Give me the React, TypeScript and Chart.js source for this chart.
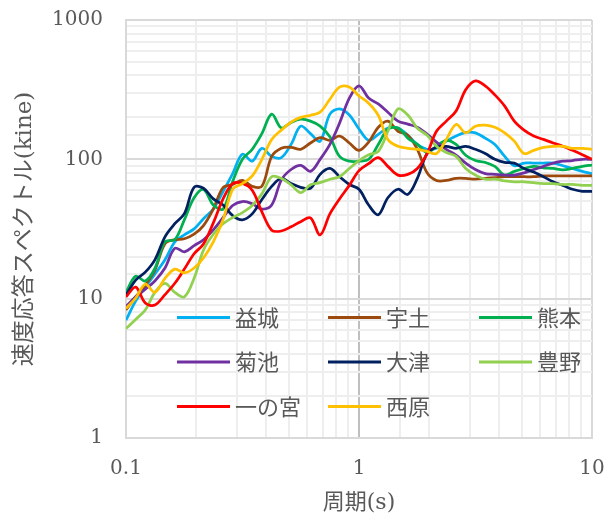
import React, { useEffect, useRef } from "react";
import { Chart, registerables } from "chart.js";

Chart.register(...registerables);

// Period (s)
const periods = [
  0.1, 0.110, 0.121, 0.133, 0.147, 0.162, 0.178, 0.196, 0.215, 0.237,
  0.261, 0.287, 0.316, 0.348, 0.383, 0.422, 0.464, 0.511, 0.562, 0.619,
  0.681, 0.750, 0.825, 0.909, 1.0, 1.10, 1.21, 1.33, 1.47, 1.62,
  1.78, 1.96, 2.15, 2.37, 2.61, 2.87, 3.16, 3.48, 3.83, 4.22,
  4.64, 5.11, 5.62, 6.19, 6.81, 7.50, 8.25, 9.09, 10,
];

// Velocity response spectra (kine)
const mashiki = [7.0, 9.6, 12.1, 15, 19, 25.6, 28.7, 31.7, 37.5, 44, 58.7, 79, 109, 97, 120, 105, 103, 128, 173, 153, 135, 211, 230, 208, 165, 137, 151, 168, 168, 149, 128, 118, 120, 135, 147, 156, 155, 142, 128, 105, 90, 94, 94, 94, 94, 90, 86, 82, 79];
const uto = [8.3, 10.3, 12.5, 16, 24.8, 26.5, 26.9, 29, 33.4, 44, 62.8, 66, 70.5, 64, 64, 105, 120, 122, 118, 131, 143, 137, 147, 131, 116, 133, 170, 188, 159, 149, 118, 80, 70.5, 70.5, 73, 73, 72, 73, 74, 75, 75, 75, 75, 76, 76, 76, 76, 76, 76];
const kumamoto = [11.1, 14.5, 13.4, 16.5, 25.6, 26.5, 36.8, 53, 60.8, 47, 44, 69.4, 100, 118, 153, 211, 168, 184, 194, 188, 173, 145, 105, 97, 97, 100, 128, 164, 168, 142, 128, 112, 124, 137, 128, 107, 98, 95, 89, 77, 82, 86, 89, 87, 86, 84, 86, 89, 91];
const kikuchi = [8.8, 10.3, 11.7, 13.4, 16.6, 23, 21.7, 24, 26.5, 31.2, 38.2, 46.6, 49.8, 48, 44, 47, 71, 84.5, 90.5, 82, 100, 128, 182, 275, 337, 275, 250, 218, 188, 179, 170, 152, 133, 118, 107, 94, 84.5, 79, 78, 77, 77, 80, 84.5, 89, 94, 97, 98, 100, 100];
const otsu = [10.6, 13.6, 15.5, 19, 27.8, 34.5, 40.7, 63, 62, 52, 47, 39.5, 36.8, 40.6, 51.5, 63.9, 73, 67, 63, 62, 78, 86, 75, 66, 61, 47, 40, 53, 61, 56, 73, 110, 122, 124, 120, 124, 118, 110, 100, 95, 94, 86, 81, 75, 69, 65, 61, 59, 59];
const toyono = [6.1, 7.1, 8.3, 11.1, 12.9, 11.1, 10.3, 14, 22.3, 29, 34.5, 38.2, 41.5, 46.6, 56.5, 75, 73, 65.6, 57.6, 65.6, 68, 72, 75, 86, 98, 108, 114, 159, 230, 208, 167, 149, 124, 112, 105, 86, 77, 72, 72, 70, 69, 69, 68, 67, 67, 66, 66, 65, 65];
const ichinomiya = [10.3, 12.1, 9.3, 9.0, 10.7, 12.9, 16.3, 21, 24.7, 35, 52, 67, 67, 60, 42, 31, 30.6, 32.8, 35.7, 38, 28.7, 40.6, 52, 65, 83, 93, 103, 89, 77, 78, 86, 110, 159, 188, 222, 316, 366, 337, 290, 241, 188, 162, 147, 139, 131, 124, 116, 108, 100];
const nishihara = [8.5, 10.1, 12.7, 11.1, 14, 16.3, 15.3, 16.6, 19.6, 25.6, 36.8, 61, 67, 76, 100, 139, 162, 185, 200, 207, 218, 270, 330, 330, 285, 253, 207, 139, 124, 120, 118, 114, 110, 139, 178, 155, 173, 176, 170, 155, 135, 110, 116, 122, 124, 124, 120, 120, 118];

const seriesNames = ["益城", "宇土", "熊本", "菊池", "大津", "豊野", "一の宮", "西原"];
const seriesValues = [mashiki, uto, kumamoto, kikuchi, otsu, toyono, ichinomiya, nishihara];
const seriesColors = ["#00B0F0", "#9C4A0E", "#00B050", "#7030A0", "#002060", "#92D050", "#FF0000", "#FFC000"];

const xTickLabels = ["0.1", "1", "10"];
const yTickLabels = ["1", "10", "100", "1000"];

const TEXT = "#595959";
const SERIF = '"DejaVu Serif", "Noto Sans CJK JP", serif';
const CJK = '"Noto Sans CJK JP", sans-serif';

const isDecade = (v: number) => {
  const l = Math.log10(v);
  return Math.abs(l - Math.round(l)) < 1e-6;
};

const labelFor = (v: number, list: string[]) => {
  if (!isDecade(v)) return "";
  const s = String(Number(v.toPrecision(6)));
  return list.includes(s) ? s : "";
};

const insideLegend = {
  id: "insideLegend",
  afterDatasetsDraw(chart: any) {
    const { ctx, chartArea } = chart;
    ctx.save();
    chart.data.datasets.forEach((ds: any, i: number) => {
      const col = i % 3;
      const row = Math.floor(i / 3);
      const x = chartArea.left + 51 + col * 151;
      const y = chartArea.top + 297.5 + row * 44.5;
      ctx.strokeStyle = ds.borderColor;
      ctx.lineWidth = 3;
      ctx.lineCap = "butt";
      ctx.beginPath();
      ctx.moveTo(x, y);
      ctx.lineTo(x + 53, y);
      ctx.stroke();
      ctx.fillStyle = TEXT;
      ctx.font = `22px ${CJK}`;
      ctx.textBaseline = "middle";
      ctx.textAlign = "left";
      ctx.fillText(ds.label, x + 58, y);
    });
    ctx.restore();
  },
};

export default function App() {
  const canvasRef = useRef<HTMLCanvasElement | null>(null);

  useEffect(() => {
    const canvas = canvasRef.current;
    if (!canvas) return;
    const chart = new Chart(canvas, {
      type: "line",
      data: {
        datasets: seriesNames.map((name, i) => ({
          label: name,
          data: seriesValues[i].map((v, j) => ({ x: periods[j], y: v })),
          borderColor: seriesColors[i],
          backgroundColor: seriesColors[i],
          borderWidth: 2.75,
          pointRadius: 0,
          tension: 0.35,
          fill: false,
          order: -i,
        })),
      },
      options: {
        responsive: false,
        animation: false,
        events: [],
        layout: { padding: { top: 20, right: 24, left: 0, bottom: 0 } },
        plugins: {
          legend: { display: false },
          tooltip: { enabled: false },
        },
        scales: {
          x: {
            type: "logarithmic",
            min: 0.1,
            max: 10,
            afterFit: (s: any) => {
              s.height = 76;
            },
            ticks: {
              autoSkip: false,
              maxRotation: 0,
              padding: 0,
              color: TEXT,
              font: { family: SERIF, size: 20 },
              callback: (v: any) => labelFor(Number(v), xTickLabels),
            },
            grid: {
              drawTicks: true,
              tickLength: 19,
              tickColor: "rgba(0,0,0,0)",
              color: (c: any) => {
                const v = c.tick ? c.tick.value : 0;
                if (Math.abs(v - 1) < 1e-9) return "#BFBFBF";
                return isDecade(v) ? "#D9D9D9" : "#EEEEEE";
              },
              lineWidth: 2,
            },
            border: { display: true, color: "#D9D9D9", width: 2 },
            title: {
              display: true,
              text: "周期(s)",
              color: TEXT,
              font: { family: SERIF, size: 22 },
              padding: { top: 0, bottom: -2 },
            },
          },
          y: {
            type: "logarithmic",
            min: 1,
            max: 1000,
            afterFit: (s: any) => {
              s.width = 126;
            },
            ticks: {
              autoSkip: false,
              padding: 0,
              color: TEXT,
              font: { family: SERIF, size: 20 },
              callback: (v: any) => labelFor(Number(v), yTickLabels),
            },
            grid: {
              drawTicks: true,
              tickLength: 23,
              tickColor: "rgba(0,0,0,0)",
              color: (c: any) => {
                const v = c.tick ? c.tick.value : 0;
                return isDecade(v) ? "#D9D9D9" : "#EEEEEE";
              },
              lineWidth: 2,
            },
            border: { display: true, color: "#D9D9D9", width: 2 },
            title: {
              display: true,
              text: "速度応答スペクトル(kine)",
              color: TEXT,
              font: { family: SERIF, size: 23 },
              padding: { top: 11, bottom: 0 },
            },
          },
        },
      },
      plugins: [insideLegend],
    });
    return () => chart.destroy();
  }, []);

  return (
    <div style={{ position: "absolute", left: 0, top: 0, width: 616, height: 514, background: "#fff" }}>
      <canvas ref={canvasRef} width={616} height={514} style={{ width: 616, height: 514, display: "block" }} />
    </div>
  );
}
